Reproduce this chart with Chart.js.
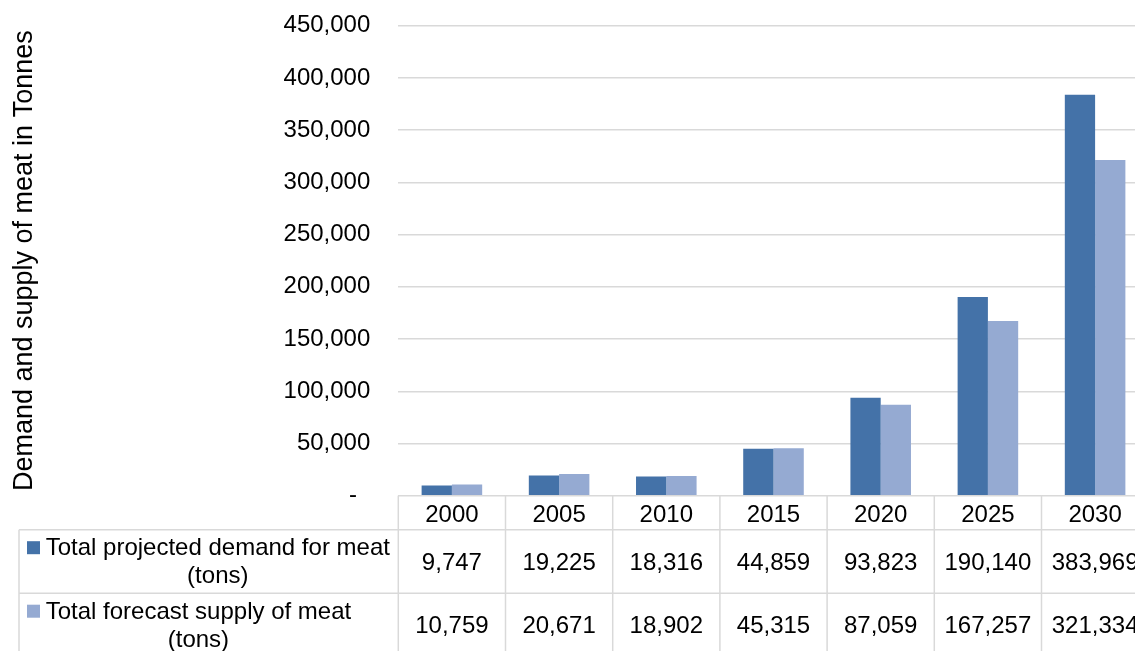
<!DOCTYPE html>
<html>
<head>
<meta charset="utf-8">
<script src="https://cdn.jsdelivr.net/npm/chart.js@4.4.1/dist/chart.umd.min.js"></script>
<style>
  html, body { margin: 0; padding: 0; overflow: hidden; background: #fff; }
  #wrap { width: 1160px; height: 651px; }
</style>
</head>
<body>
<div id="wrap"><canvas id="meatChart" width="1160" height="651"></canvas></div>
<script>
const years = ['2000', '2005', '2010', '2015', '2020', '2025', '2030'];
const demand = [9747, 19225, 18316, 44859, 93823, 190140, 383969];
const supply = [10759, 20671, 18902, 45315, 87059, 167257, 321334];
const demandName = ['Total projected demand for meat', '(tons)'];
const supplyName = ['Total forecast supply of meat', '(tons)'];
const yMax = 450000;
const yStep = 50000;

const FONT = '"Liberation Sans", Arial, sans-serif';
const GRID = '#d9d9d9';
const DARK = '#4472a8';
const LIGHT = '#95aad2';

const fmt = v => v.toLocaleString('en-US');

// data table under the plot; columns follow the category scale
const dataTable = {
  id: 'dataTable',
  afterDraw(chart) {
    const ctx = chart.ctx;
    const area = chart.chartArea;
    const xs = chart.scales.x;
    const colW = (area.right - area.left) / years.length;
    const top = area.bottom;
    const headBottom = top + 34;
    const rowH = 63.5;
    const tableLeft = 19;
    const textLeft = 45.7;
    const rows = [
      { name: demandName, values: demand, color: DARK },
      { name: supplyName, values: supply, color: LIGHT }
    ];

    ctx.save();
    ctx.strokeStyle = GRID;
    ctx.lineWidth = 1.5;

    // column separators
    for (let i = 0; i <= years.length; i++) {
      const x = area.left + i * colW;
      ctx.beginPath();
      ctx.moveTo(x, top);
      ctx.lineTo(x, headBottom + rows.length * rowH);
      ctx.stroke();
    }
    // left border of the legend column
    ctx.beginPath();
    ctx.moveTo(tableLeft, headBottom);
    ctx.lineTo(tableLeft, headBottom + rows.length * rowH);
    ctx.stroke();
    // row separators
    for (let r = 0; r <= rows.length; r++) {
      const y = headBottom + r * rowH;
      ctx.beginPath();
      ctx.moveTo(tableLeft, y);
      ctx.lineTo(area.right, y);
      ctx.stroke();
    }

    ctx.fillStyle = '#000';
    ctx.font = '24px ' + FONT;
    ctx.textBaseline = 'alphabetic';
    ctx.textAlign = 'center';

    // header with the years
    years.forEach((yr, i) => {
      ctx.fillText(yr, xs.getPixelForValue(i), top + 26);
    });

    rows.forEach((row, r) => {
      const rowTop = headBottom + r * rowH;
      row.values.forEach((v, i) => {
        ctx.fillText(fmt(v), xs.getPixelForValue(i), rowTop + 40);
      });

      // legend key + wrapped series name
      const base = rowTop + 25.5;
      ctx.fillStyle = row.color;
      ctx.fillRect(27, base - 14, 13, 13);
      ctx.fillStyle = '#000';
      const blockW = Math.max(...row.name.map(s => ctx.measureText(s).width));
      const cx = textLeft + blockW / 2;
      row.name.forEach((line, k) => {
        ctx.fillText(line, cx, base + k * 28);
      });
    });
    ctx.restore();
  }
};

new Chart(document.getElementById('meatChart'), {
  type: 'bar',
  data: {
    labels: years,
    datasets: [
      {
        label: demandName.join(' '),
        data: demand,
        backgroundColor: DARK,
        barPercentage: 1,
        categoryPercentage: 0.565
      },
      {
        label: supplyName.join(' '),
        data: supply,
        backgroundColor: LIGHT,
        barPercentage: 1,
        categoryPercentage: 0.565
      }
    ]
  },
  options: {
    responsive: false,
    animation: false,
    layout: {
      padding: { left: 0, top: 25.7, right: 11.3, bottom: 155.3 }
    },
    plugins: {
      legend: { display: false },
      tooltip: { enabled: false }
    },
    scales: {
      x: {
        display: false
      },
      y: {
        min: 0,
        max: yMax,
        ticks: {
          stepSize: yStep,
          padding: 28,
          color: '#000',
          font: { family: FONT, size: 24 },
          callback: v => (v === 0 ? '-  ' : fmt(v))
        },
        grid: { color: GRID, lineWidth: 1.5, drawTicks: false },
        border: { display: false },
        title: {
          display: true,
          text: 'Demand and supply of meat in Tonnes',
          color: '#000',
          font: { family: FONT, size: 27 },
          padding: { top: 8, bottom: 0 }
        },
        afterFit(scale) {
          scale.width = 398.3;
          scale.paddingTop = 0;
          scale.paddingBottom = 0;
        }
      }
    }
  },
  plugins: [dataTable]
});
</script>
</body>
</html>
